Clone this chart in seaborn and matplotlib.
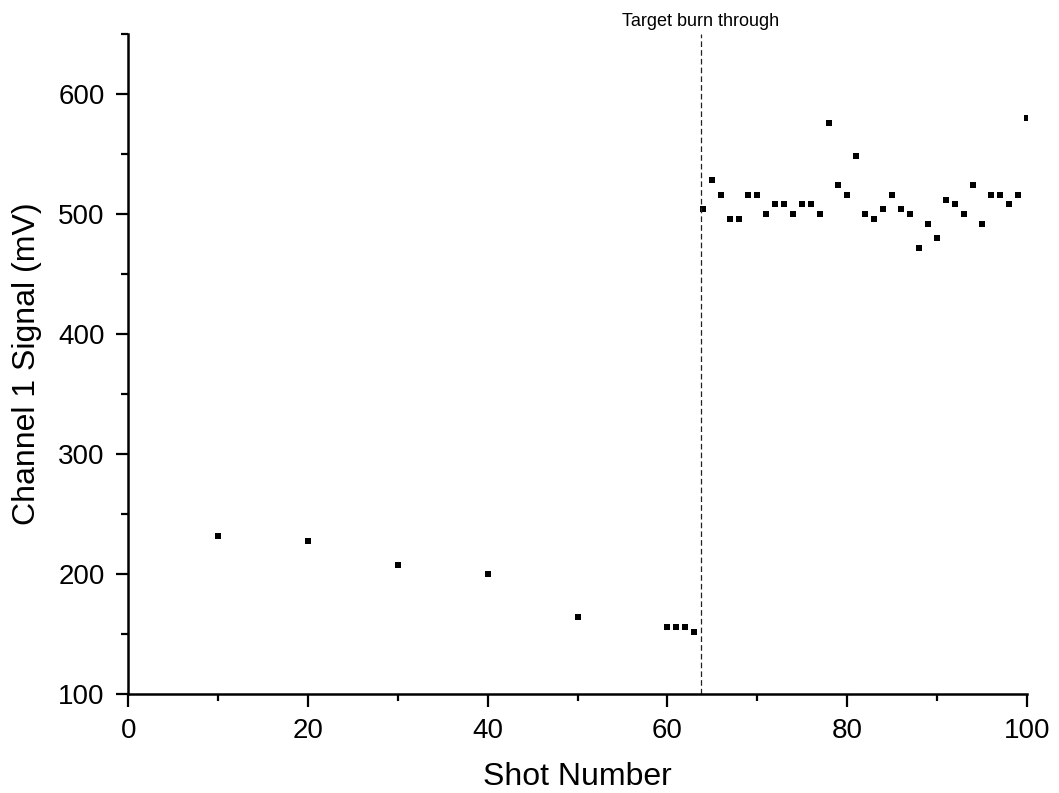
import matplotlib
matplotlib.use("Agg")
import matplotlib.pyplot as plt
from matplotlib.ticker import MultipleLocator
import seaborn as sns
import pandas as pd

shots = [10, 20, 30, 40, 50, 60, 61, 62, 63,
         64, 65, 66, 67, 68, 69, 70, 71, 72, 73, 74, 75, 76, 77, 78, 79, 80,
         81, 82, 83, 84, 85, 86, 87, 88, 89, 90, 91, 92, 93, 94, 95, 96, 97,
         98, 99, 100]
signal = [232, 228, 208, 200, 164, 156, 156, 156, 152,
          504, 528, 516, 496, 496, 516, 516, 500, 508, 508, 500, 508, 508, 500, 576, 524, 516,
          548, 500, 496, 504, 516, 504, 500, 472, 492, 480, 512, 508, 500, 524, 492, 516, 516,
          508, 516, 580]
burn_through = 63.7
burn_label = "Target burn through"

df = pd.DataFrame({"Shot Number": shots, "Signal": signal})

sns.set_theme(style="ticks")
plt.rcParams["font.family"] = ["Liberation Sans", "DejaVu Sans"]
plt.rcParams["text.color"] = "black"
plt.rcParams["axes.labelcolor"] = "black"

fig = plt.figure(figsize=(10.59, 7.93), dpi=100)
ax = fig.add_axes([0.1212, 0.1245, 0.9695 - 0.1212, 0.9571 - 0.1245])

sns.scatterplot(data=df, x="Shot Number", y="Signal", marker="s", color="black",
                s=24, linewidth=0, ax=ax)

ax.axvline(burn_through, color="#222222", linestyle=(0, (4.5, 2.5)), linewidth=0.9)
ax.text(burn_through, 653, burn_label, ha="center", va="bottom", fontsize=13,
        color="black", transform=ax.transData, clip_on=False)

ax.set_xlim(0, 100)
ax.set_ylim(100, 650)
ax.xaxis.set_major_locator(MultipleLocator(20))
ax.xaxis.set_minor_locator(MultipleLocator(10))
ax.yaxis.set_major_locator(MultipleLocator(100))
ax.yaxis.set_minor_locator(MultipleLocator(50))

ax.set_xlabel("Shot Number", fontsize=23, labelpad=13)
ax.set_ylabel("Channel 1 Signal (mV)", fontsize=23, labelpad=12)

sns.despine(ax=ax)
for sp in ("left", "bottom"):
    ax.spines[sp].set_linewidth(1.8)
    ax.spines[sp].set_color("black")
ax.tick_params(axis="both", which="major", direction="out", length=9, width=1.6,
               labelsize=20, pad=8, colors="black", labelcolor="black")
ax.tick_params(axis="both", which="minor", direction="out", length=4.7, width=1.6,
               colors="black")
ax.grid(False)

fig.savefig("out.png", dpi=100, facecolor="white")
